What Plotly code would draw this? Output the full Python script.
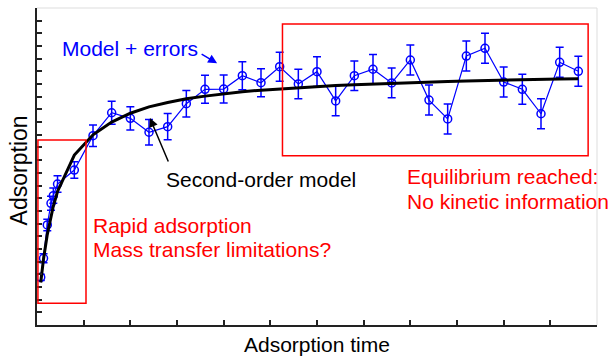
import plotly.graph_objects as go

# ---- data ----
time = [0.08, 0.14, 0.22, 0.30, 0.35, 0.44, 0.8, 1.2, 1.6, 2.0, 2.4, 2.8, 3.2, 3.6, 4.0,
        4.4, 4.8, 5.2, 5.6, 6.0, 6.4, 6.8, 7.2, 7.6, 8.0, 8.4, 8.8, 9.2, 9.6, 10.0,
        10.4, 10.8, 11.2, 11.6]
measured = [3.76, 5.26, 7.89, 9.6, 10.2, 11.12, 12.22, 14.93, 16.74, 16.30, 15.20, 15.64,
            17.45, 18.59, 18.61, 19.66, 19.11, 20.37, 19.01, 19.98, 17.67, 19.66, 20.17,
            19.09, 20.90, 17.74, 16.25, 21.21, 21.82, 19.16, 18.59, 16.66, 20.72, 20.01]
errors = [0.25, 0.35, 0.45, 0.55, 0.6, 0.65, 0.65, 0.85, 0.9, 0.92, 1.0, 1.03, 1.05, 1.1,
          1.1, 1.1, 1.1, 1.14, 1.16, 1.17, 1.17, 1.17, 1.17, 1.17, 1.18, 1.18, 1.18, 1.18,
          1.18, 1.18, 1.18, 1.18, 1.18, 1.18]
model = [3.35, 5.21, 7.13, 8.61, 9.38, 10.53, 13.4, 15.0, 16.0, 16.7, 17.2, 17.55, 17.85,
         18.05, 18.25, 18.4, 18.52, 18.62, 18.72, 18.8, 18.88, 18.95, 19.01, 19.07, 19.12,
         19.17, 19.21, 19.25, 19.29, 19.32, 19.35, 19.38, 19.41, 19.43]

FONT = "Liberation Sans, Arial, sans-serif"
BLUE = "#0000ff"
RED = "#ff0000"

fig = go.Figure()
fig.add_trace(go.Scatter(
    x=time, y=measured, mode="lines+markers",
    line=dict(color=BLUE, width=1.2),
    marker=dict(symbol="circle-open", size=8, color=BLUE, line=dict(width=1.5, color=BLUE)),
    error_y=dict(type="data", array=errors, visible=True, color=BLUE, thickness=1.5, width=4),
    showlegend=False, cliponaxis=False,
))
fig.add_trace(go.Scatter(
    x=time, y=model, mode="lines",
    line=dict(color="black", width=3),
    showlegend=False,
))

# red region boxes
fig.add_shape(type="rect", xref="x", yref="y", x0=0.02, x1=1.05, y0=1.71, y1=14.59,
              line=dict(color=RED, width=1.5))
fig.add_shape(type="rect", xref="x", yref="y", x0=5.26, x1=11.81, y0=13.35, y1=23.74,
              line=dict(color=RED, width=1.5))
# faint frame top/right
fig.add_shape(type="line", xref="paper", yref="paper", x0=0, x1=1, y0=1, y1=1,
              line=dict(color="#dddddd", width=1), layer="below")
fig.add_shape(type="line", xref="paper", yref="paper", x0=1, x1=1, y0=0, y1=1,
              line=dict(color="#dddddd", width=1), layer="below")

def txt(x, y, s, color):
    fig.add_annotation(x=x, y=y, xref="x", yref="y", text=s, showarrow=False,
                       xanchor="left", yanchor="middle", borderpad=0,
                       font=dict(family=FONT, size=21, color=color))

txt(0.51, 21.78, "Model + errors", BLUE)
txt(2.74, 11.47, "Second-order model", "black")
txt(7.91, 11.73, "Equilibrium reached:", RED)
txt(7.91, 9.72, "No kinetic information", RED)
txt(1.18, 7.86, "Rapid adsorption", RED)
txt(1.18, 5.95, "Mass transfer limitations?", RED)

# arrows
fig.add_annotation(x=3.86, y=20.64, xref="x", yref="y", text="", showarrow=True,
                   ax=-17, ay=-10, arrowcolor=BLUE, arrowwidth=1.5, arrowhead=2, arrowsize=1.2)
fig.add_annotation(x=2.42, y=16.32, xref="x", yref="y", text="", showarrow=True,
                   ax=19, ay=45, arrowcolor="black", arrowwidth=1.5, arrowhead=2, arrowsize=1.2)

# axis titles
fig.add_annotation(x=0.5, y=-0.063, xref="paper", yref="paper", text="Adsorption time",
                   showarrow=False, xanchor="center", yanchor="middle",
                   font=dict(family=FONT, size=21, color="black"))
fig.add_annotation(x=-0.032, y=0.488, xref="paper", yref="paper", text="Adsorption",
                   showarrow=False, xanchor="center", yanchor="middle", textangle=-90,
                   font=dict(family=FONT, size=23, color="black"))

fig.update_xaxes(range=[0, 12], dtick=1, tick0=0, ticks="inside", ticklen=5, tickwidth=1.5,
                 tickcolor="#222", showticklabels=False, showgrid=False, zeroline=False,
                 showline=True, linecolor="#222", linewidth=2)
fig.update_yaxes(range=[0, 25], dtick=1, tick0=0, ticks="inside", ticklen=5, tickwidth=1.5,
                 tickcolor="#222", showticklabels=False, showgrid=False, zeroline=False,
                 showline=True, linecolor="#222", linewidth=2)
fig.update_layout(width=615, height=358, margin=dict(l=37, r=18, t=8, b=33),
                  plot_bgcolor="white", paper_bgcolor="white",
                  font=dict(family=FONT))
fig.write_html("out.html")
